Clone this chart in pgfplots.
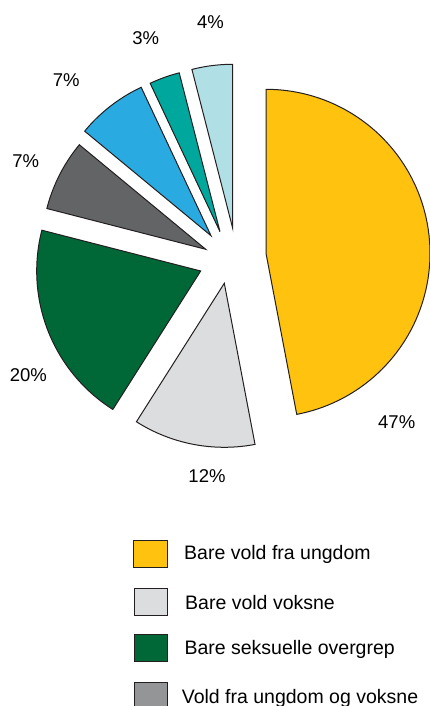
\documentclass[border=0pt]{standalone}
\usepackage{pgfplots}
\pgfplotsset{compat=1.18}
\usepackage{fontspec}
\setmainfont{Liberation Sans}

\definecolor{cYellow}{HTML}{FFC20E}
\definecolor{cLight}{HTML}{DCDDDE}
\definecolor{cGreen}{HTML}{006837}
\definecolor{cDark}{HTML}{636466}
\definecolor{cBlue}{HTML}{29ABE2}
\definecolor{cTeal}{HTML}{00A79D}
\definecolor{cCyan}{HTML}{B0DFE5}
\definecolor{cMid}{HTML}{949597}
\definecolor{edge}{HTML}{231F20}

% radius of the pie (pt)
\def\R{164}
\def\cum{0}
% #1 share in %, #2/#3 apex (exploded slice tip), #4 fill
\newcommand\slice[4]{%
  \pgfmathsetmacro\sa{\cum*3.6}%
  \pgfmathsetmacro\sb{(\cum+#1)*3.6}%
  \pgfmathsetmacro\newcum{\cum+#1}%
  \xdef\cum{\newcum}%
  \edef\doslice{\noexpand\addplot[draw=edge, line width=1pt, fill=#4,
      domain=\sa:\sb, samples=90, variable=\noexpand\t]
    ({#2+\R*sin(\noexpand\t)}, {-#3+\R*cos(\noexpand\t)})
    -- (axis cs:#2,-#3) -- cycle;}%
  \doslice
}

\begin{document}
\begin{tikzpicture}
\begin{axis}[
    scale only axis,
    width=430pt, height=706pt,
    xmin=0, xmax=430, ymin=-706, ymax=0,
    hide axis, clip=false,
    every node/.style={inner sep=0pt, text=edge},
]
% slices, clockwise from 12 o'clock
\slice{47}{266}{253.3}{cYellow}
\slice{12}{224.3}{283.3}{cLight}
\slice{20}{200.7}{271}{cGreen}
\slice{7}{205.7}{249.3}{cDark}
\slice{7}{211}{235.7}{cBlue}
\slice{3}{220}{231.7}{cTeal}
\slice{4}{232.7}{228.3}{cCyan}

% percentage labels
\begin{scope}[font=\fontsize{18.5}{22}\selectfont]
\node[anchor=base] at (axis cs:396.7,-429) {47\%};
\node[anchor=base] at (axis cs:207,-482.7) {12\%};
\node[anchor=base] at (axis cs:28.3,-381.7) {20\%};
\node[anchor=base] at (axis cs:25.8,-167.3) {7\%};
\node[anchor=base] at (axis cs:66.2,-86.7) {7\%};
\node[anchor=base] at (axis cs:145.8,-44.3) {3\%};
\node[anchor=base] at (axis cs:210.5,-29) {4\%};
\end{scope}

% legend
\begin{scope}[font=\fontsize{19.5}{23}\selectfont]
\draw[edge, line width=0.8pt, fill=cYellow] (axis cs:133.5,-540.7) rectangle (axis cs:167.5,-567.3);
\draw[edge, line width=0.8pt, fill=cLight] (axis cs:134.3,-588.3) rectangle (axis cs:167.7,-615.7);
\draw[edge, line width=0.8pt, fill=cGreen] (axis cs:134.3,-634.3) rectangle (axis cs:167.7,-661.7);
\draw[edge, line width=0.8pt, fill=cMid] (axis cs:134.3,-682.3) rectangle (axis cs:167.7,-709.7);
\node[anchor=base west] at (axis cs:180.7,-559.3) {Bare vold fra ungdom};
\node[anchor=base west] at (axis cs:181.7,-609.3) {Bare vold voksne};
\node[anchor=base west] at (axis cs:181,-654.7) {Bare seksuelle overgrep};
\node[anchor=base west] at (axis cs:178.3,-703.5) {Vold fra ungdom og voksne};
\end{scope}
\end{axis}
\pgfresetboundingbox
\useasboundingbox (current axis.south west) rectangle (current axis.north east);
\end{tikzpicture}
\end{document}
